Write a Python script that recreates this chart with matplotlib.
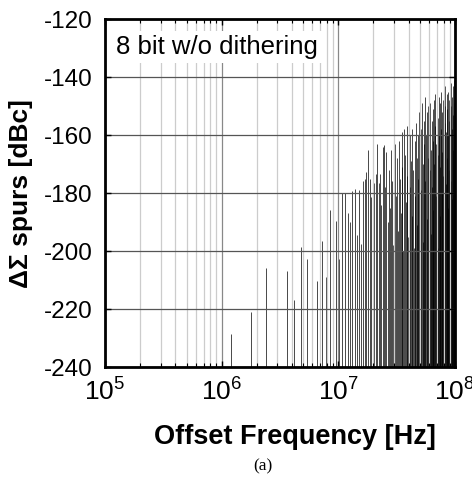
import matplotlib
matplotlib.use("Agg")
import numpy as np
import matplotlib.pyplot as plt
from matplotlib.ticker import LogLocator, NullFormatter, MultipleLocator

plt.rcParams["font.family"] = ["Liberation Sans", "DejaVu Sans"]
plt.rcParams["mathtext.default"] = "regular"
plt.rcParams["axes.unicode_minus"] = False

# spur spacing (Hz) and spur index
SPUR_STEP = 0.6e6
spur_index = np.arange(1, 167)

# spur levels in dBc, one per harmonic k = 1..166
levels_low = [
    -234.5, -228.6, -221.0, -206.0, -216.3, -207.0, -217.0, -198.5, -202.8, -192.8,
    -210.3, -196.4, -209.0, -186.0, -191.7, -189.7, -202.7, -180.0, -180.0, -187.0,
    -190.0, -179.4, -178.6, -194.3, -179.1, -197.4, -175.9, -175.0, -172.7, -165.2,
    -175.0, -181.3, -177.3, -176.4, -173.3, -163.0, -176.7, -173.4, -184.0, -164.0,
    -163.4,
]
levels_high = [
    -178, -166, -190, -172, -185, -165, -176, -198, -170, -163,
    -181, -168, -193, -162, -175, -187, -159, -171, -200, -158,
    -167, -183, -157, -174, -195, -163, -160, -178, -169, -188,
    -158, -172, -199, -162, -181, -156, -168, -191, -160, -175,
    -152, -186, -165, -158, -179, -149, -170, -197, -155, -163,
    -147, -176, -160, -189, -152, -168, -150, -183, -158, -172,
    -149, -165, -194, -155, -178, -151, -162, -186, -148, -170,
    -157, -146, -181, -163, -150, -175, -199, -154, -167, -147,
    -160, -188, -149, -171, -145, -158, -180, -152, -166, -148,
    -174, -144, -162, -190, -150, -156, -143, -177, -159, -146,
    -168, -151, -185, -145, -160, -172, -148, -155, -193, -144,
    -163, -150, -176, -142, -158, -182, -147, -165, -153, -143,
    -170, -149, -141, -160, -152,
]
levels = np.array(levels_low + levels_high, dtype=float)
freqs = spur_index * SPUR_STEP

fig = plt.figure(figsize=(4.72, 4.78), dpi=100)
ax = fig.add_axes([0.2225, 0.2322, 0.7415, 0.7278])

ax.vlines(freqs, -240, levels, colors="#000000", linewidth=0.5, zorder=2)

ax.set_xscale("log")
ax.set_xlim(1e5, 1e8)
ax.set_ylim(-240, -120)
ax.yaxis.set_major_locator(MultipleLocator(20))
ax.xaxis.set_minor_locator(LogLocator(base=10, subs=np.arange(2, 10), numticks=20))
ax.xaxis.set_minor_formatter(NullFormatter())
ax.set_xticks([1e5, 1e6, 1e7, 1e8])
ax.set_xticklabels(["$10^{5}$", "$10^{6}$", "$10^{7}$", "$10^{8}$"])

ax.grid(True, which="major", axis="y", color="#555555", linewidth=0.9, zorder=3)
ax.grid(True, which="major", axis="x", color="#888888", linewidth=0.9, zorder=3)
ax.grid(True, which="minor", axis="x", color="#cccccc", linewidth=0.9, zorder=3)
ax.set_axisbelow(False)

ax.tick_params(which="both", direction="in", top=True, right=True)
ax.tick_params(axis="y", labelsize=17.5, pad=9)
ax.tick_params(axis="x", labelsize=19, pad=8)
ax.tick_params(which="major", length=4, width=1)
ax.tick_params(which="minor", length=3, width=0.8)
for s in ax.spines.values():
    s.set_linewidth(2)
    s.set_zorder(5)

ax.text(0.03, 0.955, "8 bit w/o dithering", transform=ax.transAxes, fontsize=18.5,
        va="top", ha="left", zorder=6,
        bbox=dict(facecolor="white", edgecolor="none", pad=3))

ax.set_ylabel("ΔΣ spurs [dBc]", fontsize=19, fontweight="bold", labelpad=8)
ax.set_xlabel("Offset Frequency [Hz]", fontsize=19.5, fontweight="bold", labelpad=16)
ax.xaxis.set_label_coords(0.543, -0.165)

fig.text(0.557, 0.025, "(a)", fontsize=12.5, family="Liberation Serif", ha="center", va="center")

fig.savefig("out.png", dpi=100)
